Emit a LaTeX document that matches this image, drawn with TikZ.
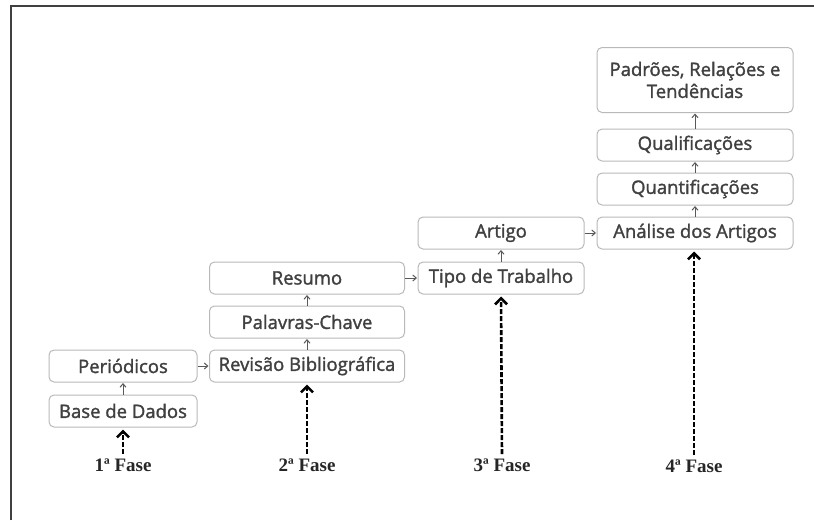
\documentclass[tikz,border=0pt]{standalone}
\usepackage{fontspec}
\setmainfont{Liberation Serif}
\newfontfamily\etapafont[FakeBold=1.6]{Open Sans}
\usetikzlibrary{arrows.meta}

\tikzset{
    etapa/.style={draw=gray!55, line width=1pt, rounded corners=5pt,
        inner sep=0pt, align=center, text=black!75,
        font=\etapafont\fontsize{18.5}{22}\selectfont},
    seta/.style={-{Straight Barb[length=3.5pt,width=6pt]}, draw=black!65,
        line width=1pt, shorten >=0.5pt},
    fase/.style={font=\bfseries\fontsize{19}{22}\selectfont, text=black!85},
    ligafase/.style={-{Straight Barb[length=6pt,width=12pt]}, line width=2.6pt,
        dash pattern=on 5pt off 2pt, shorten >=2pt, shorten <=1pt}
}

\begin{document}
\begin{tikzpicture}[x=1pt, y=-1pt]

    \useasboundingbox (0,0) rectangle (814,520);
    \draw[black!75, line width=1.2pt] (11,520) -- (11,6) -- (814,6);

    % 1a fase
    \node[etapa, minimum width=148pt, minimum height=32pt] (base) at (123,411){Base de Dados};
    \node[etapa, minimum width=148pt, minimum height=32pt] (periodicos) at (123,366){Periódicos};

    % 2a fase
    \node[etapa, minimum width=195pt, minimum height=32pt] (revisao) at (307,366){Revisão Bibliográfica};
    \node[etapa, minimum width=195pt, minimum height=32pt] (palavras) at (307,322){Palavras-Chave};
    \node[etapa, minimum width=195pt, minimum height=32pt] (resumo) at (307,278){Resumo};

    % 3a fase
    \node[etapa, minimum width=166pt, minimum height=32pt] (tipo) at (501,278){Tipo de Trabalho};
    \node[etapa, minimum width=166pt, minimum height=32pt] (artigo) at (501,233){Artigo};

    % 4a fase
    \node[etapa, minimum width=196pt, minimum height=32pt] (analise) at (695,233){Análise dos Artigos};
    \node[etapa, minimum width=196pt, minimum height=32pt] (quanti) at (695,189){Quantificações};
    \node[etapa, minimum width=196pt, minimum height=32pt] (quali) at (695,145){Qualificações};
    \node[etapa, minimum width=196pt, minimum height=65pt] (padroes) at (695,80){Padrões, Relações e\\Tendências};

    \draw[seta] (base) -- (periodicos);
    \draw[seta] (periodicos) -- (revisao);
    \draw[seta] (revisao) -- (palavras);
    \draw[seta] (palavras) -- (resumo);
    \draw[seta] (resumo) -- (tipo);
    \draw[seta] (tipo) -- (artigo);
    \draw[seta] (artigo) -- (analise);
    \draw[seta] (analise) -- (quanti);
    \draw[seta] (quanti) -- (quali);
    \draw[seta] (quali) -- (padroes);

    % fases
    \node[fase] (fase1) at (123,465){1ª Fase};
    \node[fase] (fase2) at (307,465){2ª Fase};
    \node[fase] (fase3) at (502,465){3ª Fase};
    \node[fase] (fase4) at (694,466){4ª Fase};

    \draw[ligafase] (fase1.north) -- (base.south);
    \draw[ligafase] (fase2.north) -- (revisao.south);
    \draw[ligafase] (fase3.north) -- (tipo.south);
    \draw[ligafase] (fase4.north) -- (fase4.north |- analise.south);

\end{tikzpicture}
\end{document}
